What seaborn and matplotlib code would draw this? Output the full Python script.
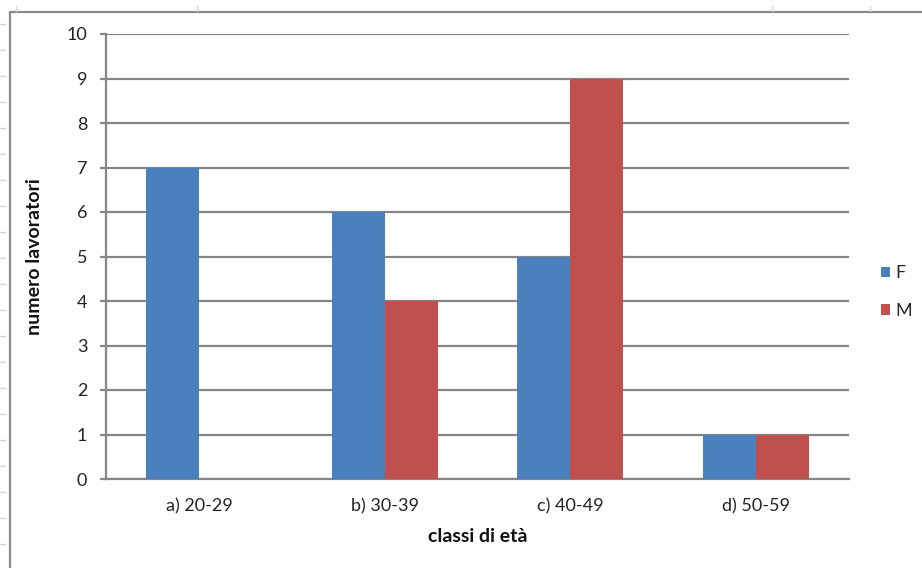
import matplotlib
matplotlib.use("Agg")
import matplotlib.pyplot as plt
from matplotlib.lines import Line2D
from matplotlib.patches import Patch
import seaborn as sns
import pandas as pd

# Workers per age class, split by sex
categories = ["a) 20-29", "b) 30-39", "c) 40-49", "d) 50-59"]
femmine = [7, 6, 5, 1]
maschi = [0, 4, 9, 1]
series_names = ["F", "M"]
y_ticks = list(range(0, 11))

colors = {"F": "#4A81BD", "M": "#C0504D"}
grid_gray = "#868686"

df = pd.DataFrame({
    "classe": categories * 2,
    "sesso": ["F"] * len(categories) + ["M"] * len(categories),
    "valore": femmine + maschi,
})

sns.set_theme(style="white")
plt.rcParams["font.family"] = ["Lato", "DejaVu Sans"]

W, H = 922, 568
fig = plt.figure(figsize=(W / 100, H / 100), dpi=100)
fig.patch.set_facecolor("white")

# chart-area frame and faint sheet cell marks around it
fig.add_artist(Line2D([10 / W, 10 / W], [0, 1 - 12 / H], color="#8c8c8c", lw=1.6))
fig.add_artist(Line2D([10 / W, 1], [1 - 12 / H, 1 - 12 / H], color="#8c8c8c", lw=1.6))
for yy in range(24, H, 26):
    fig.add_artist(Line2D([0, 5 / W], [1 - yy / H, 1 - yy / H], color="#d4d4d4", lw=1))
for xx in [16, 197, 772, 870]:
    fig.add_artist(Line2D([xx / W, xx / W], [1 - 6 / H, 1 - 11 / H], color="#d4d4d4", lw=1))

ax = fig.add_axes([106 / W, 1 - 479 / H, (849 - 106) / W, (479 - 34) / H])
ax.set_facecolor("white")

sns.barplot(data=df, x="classe", y="valore", hue="sesso", order=categories,
            hue_order=series_names, palette=colors, width=0.572,
            saturation=1, ax=ax, legend=False, zorder=3)
for p in ax.patches:
    p.set_edgecolor("none")

ax.set_xlim(-0.5, len(categories) - 0.5)
ax.set_ylim(0, 10)
ax.set_yticks(y_ticks)
ax.set_yticklabels([str(t) for t in y_ticks], fontsize=13, color="#222222")
ax.yaxis.grid(True, color=grid_gray, lw=1.6, zorder=0)
ax.set_axisbelow(True)

ax.set_xticks(range(len(categories)))
ax.set_xticklabels(categories, fontsize=13, color="#222222")
ax.set_xticks([i - 0.5 for i in range(len(categories) + 1)], minor=True)
ax.tick_params(axis="x", which="major", length=0, pad=14)
ax.tick_params(axis="x", which="minor", length=5, width=1.6, color=grid_gray, direction="out")
ax.tick_params(axis="y", which="major", length=4.5, width=1.6, color=grid_gray,
               direction="out", pad=9, left=True)

for side in ["top", "right"]:
    ax.spines[side].set_visible(False)
for side in ["left", "bottom"]:
    ax.spines[side].set_color(grid_gray)
    ax.spines[side].set_linewidth(1.6)

ax.set_xlabel("classi di età", fontsize=14, fontweight="bold", color="#111111")
ax.set_ylabel("numero lavoratori", fontsize=14, fontweight="bold", color="#111111")
ax.xaxis.set_label_coords(0.5, 1 - (537 - 34) / (479 - 34), transform=ax.transAxes)
ax.xaxis.label.set_va("center")
ax.yaxis.set_label_coords((35 - 106) / (849 - 106), 0.5)
ax.yaxis.label.set_va("center")

handles = [Patch(facecolor=colors[s], edgecolor="none") for s in series_names]
fig.legend(handles, series_names, loc="center left", bbox_to_anchor=(881 / W, 1 - 292 / H),
           frameon=False, fontsize=13, handlelength=0.5, handleheight=0.5,
           handletextpad=0.3, labelspacing=1.2, borderpad=0, borderaxespad=0)

fig.savefig("out.png", dpi=100, facecolor="white")
